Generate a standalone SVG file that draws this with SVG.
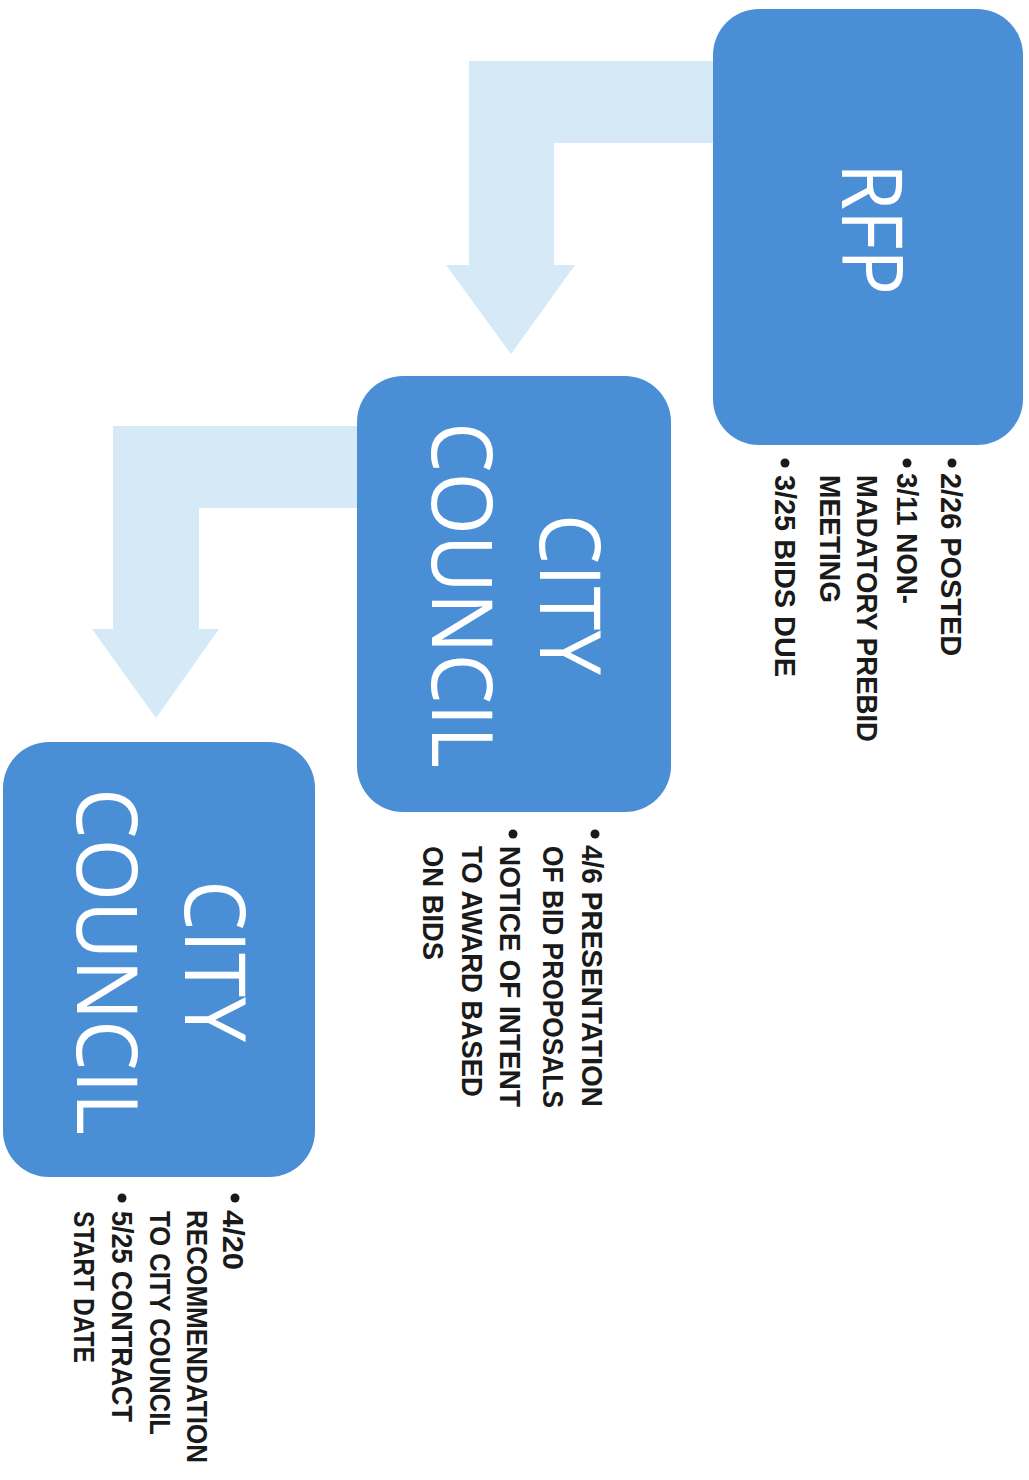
<svg xmlns="http://www.w3.org/2000/svg" width="1029" height="1480" viewBox="0 0 1029 1480">
  <style>
    .box { fill: #4a8fd5; }
    .arrow { fill: #d5e9f7; }
    .title { font-family: "Open Sans", "Liberation Sans", sans-serif; font-weight: 400; font-size: 84px; fill: #ffffff; text-anchor: middle; }
    .item { font-family: "Liberation Sans", Arial, sans-serif; font-weight: 700; font-size: 30px; fill: #1a1a1a; }
    .bullet { fill: #1a1a1a; }
  </style>
  <rect x="0" y="0" width="1029" height="1480" fill="#ffffff"/>
  <g id="connectors">
    <polygon class="arrow" points="720,61 469,61 469,265 446,265 511,354 575,265 554,265 554,143 720,143"/>
    <polygon class="arrow" points="365,426 113,426 113,629 92,629 156,718 219,629 199,629 199,508 365,508"/>
  </g>
  <g id="node-rfp">
    <rect class="box" x="713" y="9" width="310" height="436" rx="46" ry="46"/>
    <text class="title" transform="translate(842,229) rotate(90)" textLength="132" lengthAdjust="spacingAndGlyphs">RFP</text>
  </g>
  <g id="node-rfp-notes">
    <circle class="bullet" cx="952" cy="463" r="4.5"/>
    <circle class="bullet" cx="907" cy="463" r="4.5"/>
    <circle class="bullet" cx="785" cy="463" r="4.5"/>
    <text class="item" transform="translate(941,473) rotate(90)" textLength="183" lengthAdjust="spacingAndGlyphs">2/26 POSTED</text>
    <text class="item" transform="translate(897,473) rotate(90)" textLength="131" lengthAdjust="spacingAndGlyphs">3/11 NON-</text>
    <text class="item" transform="translate(857,475) rotate(90)" textLength="267" lengthAdjust="spacingAndGlyphs">MADATORY PREBID</text>
    <text class="item" transform="translate(820,475) rotate(90)" textLength="128" lengthAdjust="spacingAndGlyphs">MEETING</text>
    <text class="item" transform="translate(775,475) rotate(90)" textLength="202" lengthAdjust="spacingAndGlyphs">3/25 BIDS DUE</text>
  </g>
  <g id="node-council-1">
    <rect class="box" x="357" y="376" width="314" height="436" rx="46" ry="46"/>
    <text class="title" transform="translate(540,594.5) rotate(90)" textLength="161" lengthAdjust="spacingAndGlyphs">CITY</text>
    <text class="title" transform="translate(432,595) rotate(90)" textLength="346" lengthAdjust="spacingAndGlyphs">COUNCIL</text>
  </g>
  <g id="node-council-1-notes">
    <circle class="bullet" cx="595" cy="834" r="4.5"/>
    <circle class="bullet" cx="513" cy="834" r="4.5"/>
    <text class="item" transform="translate(582,845) rotate(90)" textLength="262" lengthAdjust="spacingAndGlyphs">4/6 PRESENTATION</text>
    <text class="item" transform="translate(543,846) rotate(90)" textLength="262" lengthAdjust="spacingAndGlyphs">OF BID PROPOSALS</text>
    <text class="item" transform="translate(500,846) rotate(90)" textLength="261" lengthAdjust="spacingAndGlyphs">NOTICE OF INTENT</text>
    <text class="item" transform="translate(462,846) rotate(90)" textLength="251" lengthAdjust="spacingAndGlyphs">TO AWARD BASED</text>
    <text class="item" transform="translate(423,846) rotate(90)" textLength="114" lengthAdjust="spacingAndGlyphs">ON BIDS</text>
  </g>
  <g id="node-council-2">
    <rect class="box" x="3" y="742" width="312" height="435" rx="46" ry="46"/>
    <text class="title" transform="translate(185,961) rotate(90)" textLength="162" lengthAdjust="spacingAndGlyphs">CITY</text>
    <text class="title" transform="translate(77,961.5) rotate(90)" textLength="347" lengthAdjust="spacingAndGlyphs">COUNCIL</text>
  </g>
  <g id="node-council-2-notes">
    <circle class="bullet" cx="235" cy="1198" r="4.5"/>
    <circle class="bullet" cx="122" cy="1198" r="4.5"/>
    <text class="item" transform="translate(223,1210) rotate(90)" textLength="60" lengthAdjust="spacingAndGlyphs">4/20</text>
    <text class="item" transform="translate(187,1210) rotate(90) scale(0.87,1)">RECOMMENDATION</text>
    <text class="item" transform="translate(150,1211) rotate(90)" textLength="224" lengthAdjust="spacingAndGlyphs">TO CITY COUNCIL</text>
    <text class="item" transform="translate(112,1211) rotate(90)" textLength="211" lengthAdjust="spacingAndGlyphs">5/25 CONTRACT</text>
    <text class="item" transform="translate(74,1211) rotate(90)" textLength="152" lengthAdjust="spacingAndGlyphs">START DATE</text>
  </g>
</svg>
